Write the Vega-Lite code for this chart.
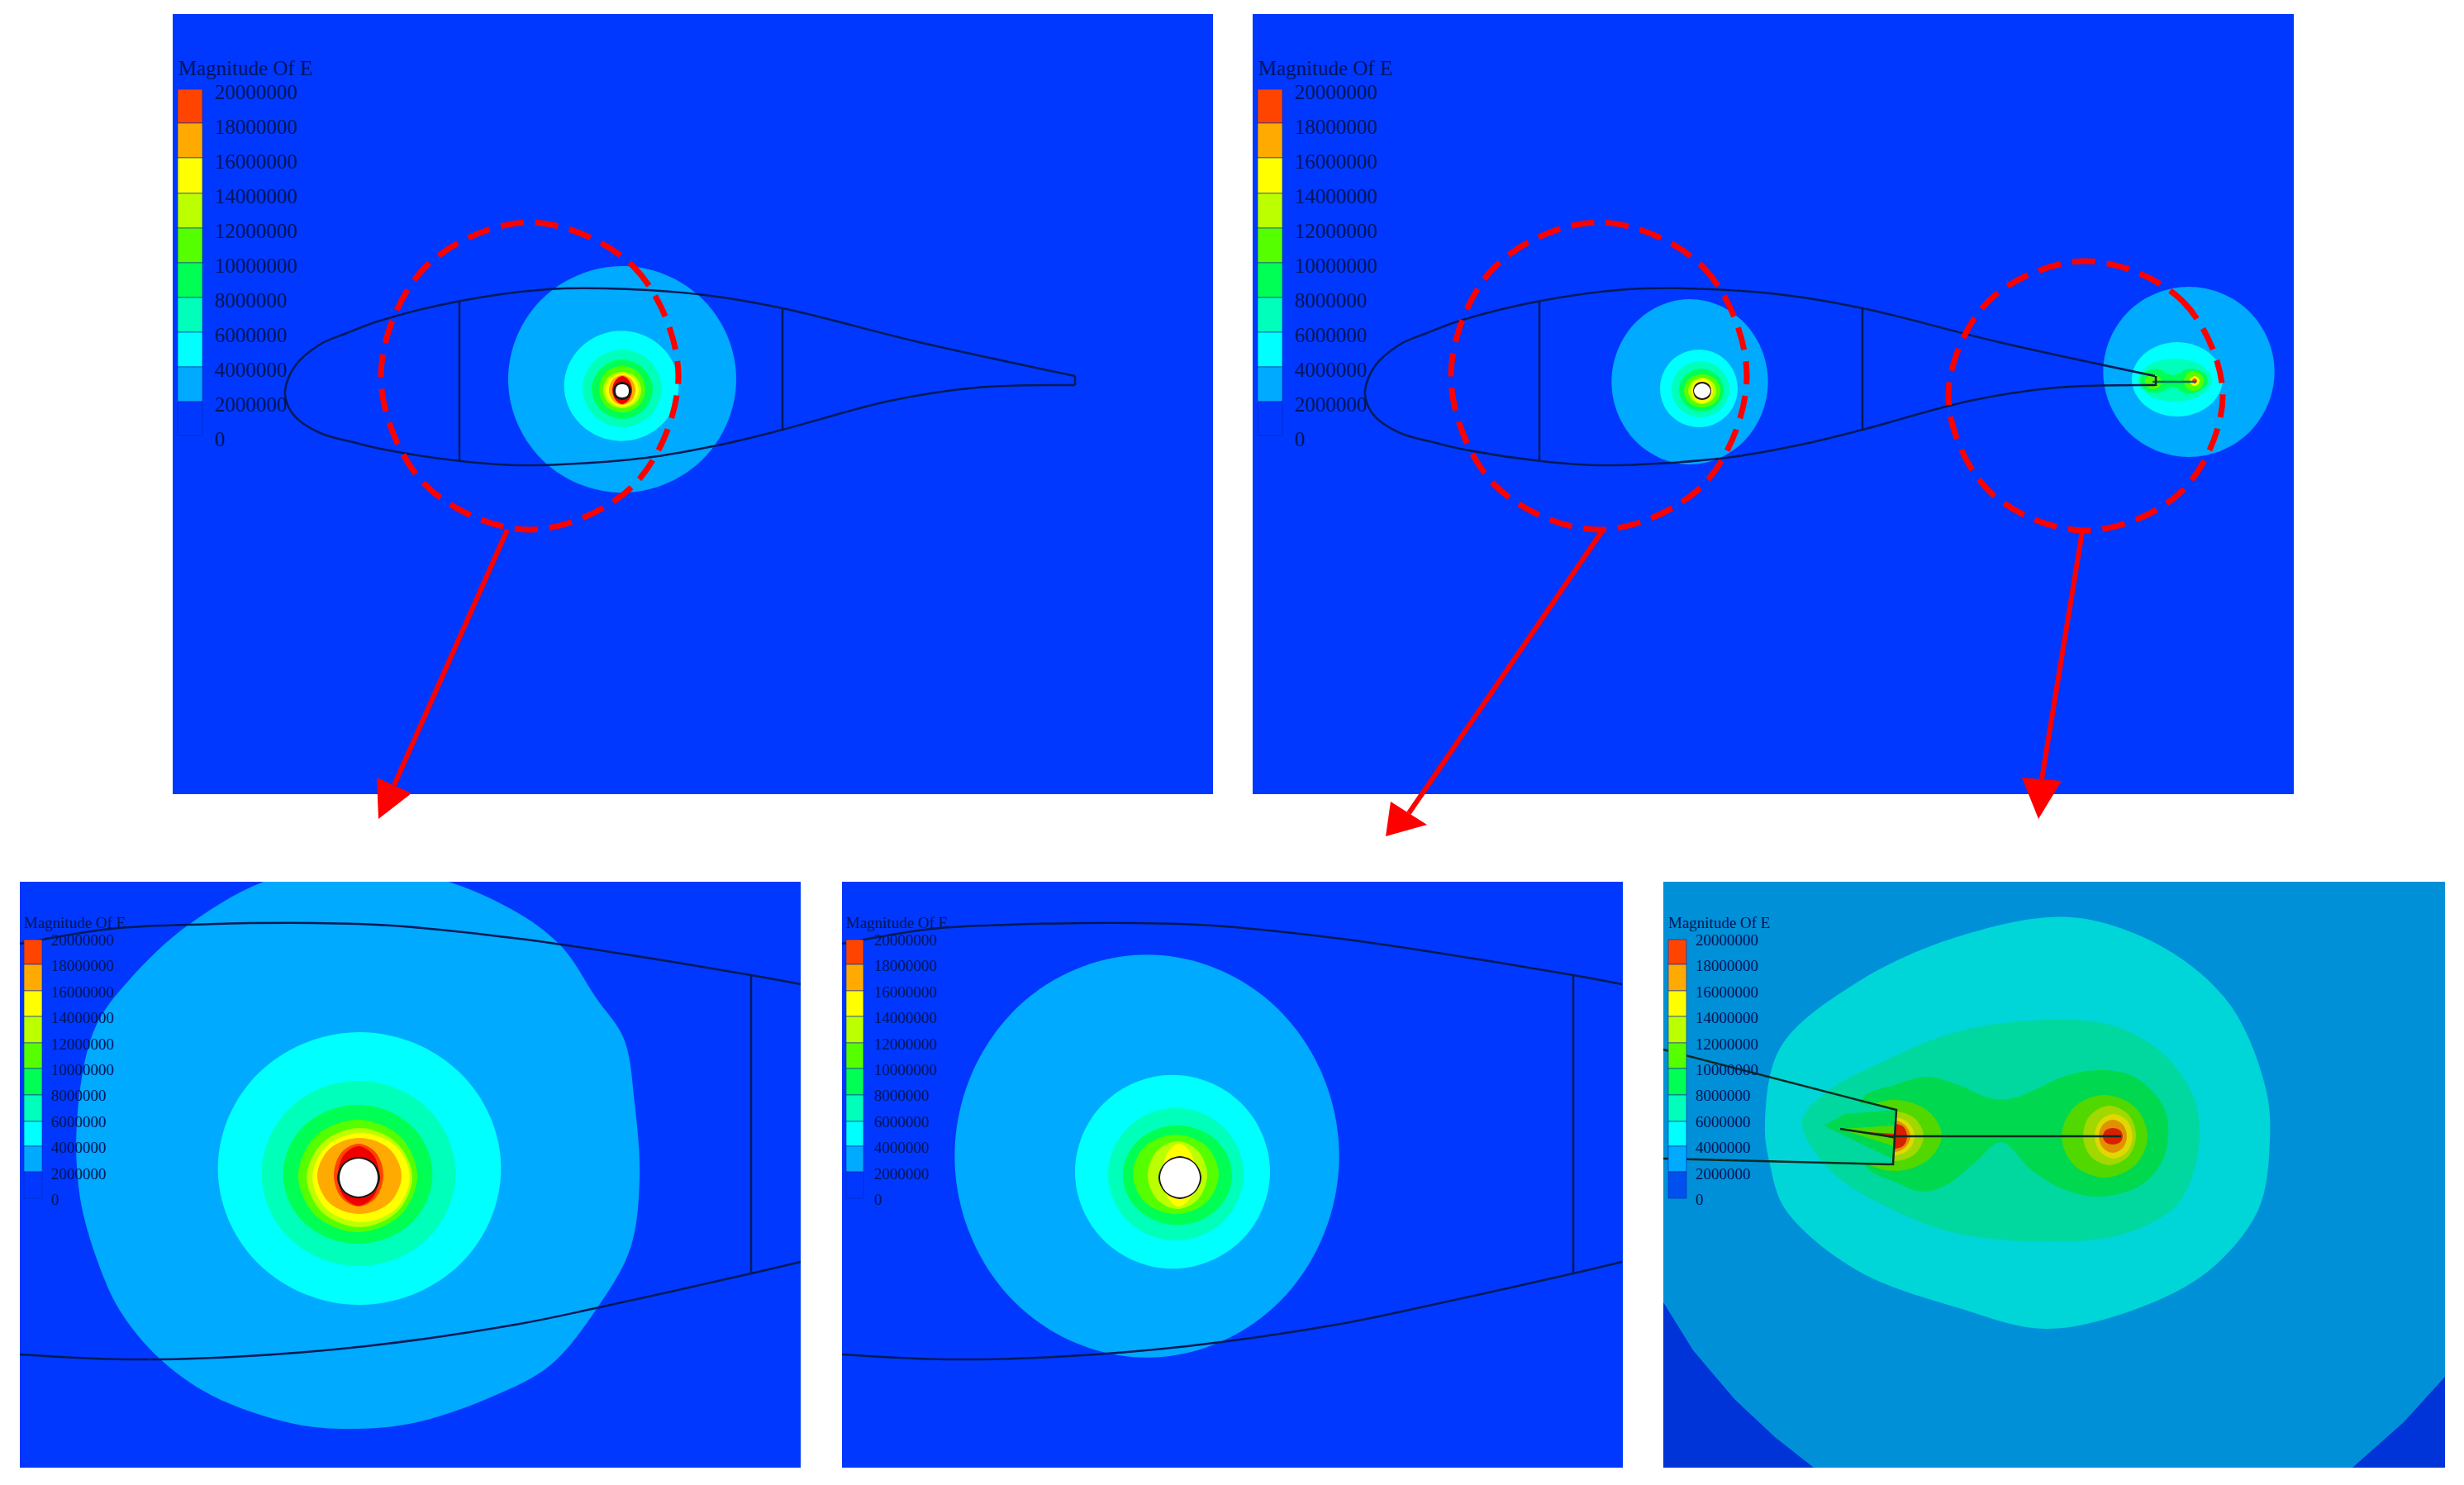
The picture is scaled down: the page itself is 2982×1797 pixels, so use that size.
{"$schema":"https://vega.github.io/schema/vega-lite/v6.json","width":2982,"height":1797,"autosize":{"type":"fit","contains":"padding"},"padding":0,"background":"#ffffff","view":{"stroke":null},
"datasets":{
"panels":[{"b":"b1","x":209,"x2":1468,"y":17,"y2":961},{"b":"b1","x":1516,"x2":2776,"y":17,"y2":961},{"b":"b1","x":24,"x2":969,"y":1067,"y2":1776},{"b":"b1","x":1019,"x2":1964,"y":1067,"y2":1776},{"b":"g2","x":2013,"x2":2959,"y":1067,"y2":1776}],
"mask":[{"b":"white","x":24,"x2":969,"y":961,"y2":1067}],
"legend":[
{"b":"b10","x":215,"x2":245,"y":108,"y2":149},{"b":"b9","x":215,"x2":245,"y":149,"y2":191},{"b":"b8","x":215,"x2":245,"y":191,"y2":234},{"b":"b7","x":215,"x2":245,"y":234,"y2":276},{"b":"b6","x":215,"x2":245,"y":276,"y2":318},{"b":"b5","x":215,"x2":245,"y":318,"y2":360},{"b":"b4","x":215,"x2":245,"y":360,"y2":402},{"b":"b3","x":215,"x2":245,"y":402,"y2":444},{"b":"b2","x":215,"x2":245,"y":444,"y2":486},{"b":"b1","x":215,"x2":245,"y":486,"y2":527},
{"b":"b10","x":1522,"x2":1552,"y":108,"y2":149},{"b":"b9","x":1522,"x2":1552,"y":149,"y2":191},{"b":"b8","x":1522,"x2":1552,"y":191,"y2":234},{"b":"b7","x":1522,"x2":1552,"y":234,"y2":276},{"b":"b6","x":1522,"x2":1552,"y":276,"y2":318},{"b":"b5","x":1522,"x2":1552,"y":318,"y2":360},{"b":"b4","x":1522,"x2":1552,"y":360,"y2":402},{"b":"b3","x":1522,"x2":1552,"y":402,"y2":444},{"b":"b2","x":1522,"x2":1552,"y":444,"y2":486},{"b":"b1","x":1522,"x2":1552,"y":486,"y2":527},
{"b":"b10","x":29,"x2":51,"y":1137,"y2":1167},{"b":"b9","x":29,"x2":51,"y":1167,"y2":1199},{"b":"b8","x":29,"x2":51,"y":1199,"y2":1230},{"b":"b7","x":29,"x2":51,"y":1230,"y2":1262},{"b":"b6","x":29,"x2":51,"y":1262,"y2":1293},{"b":"b5","x":29,"x2":51,"y":1293,"y2":1325},{"b":"b4","x":29,"x2":51,"y":1325,"y2":1357},{"b":"b3","x":29,"x2":51,"y":1357,"y2":1387},{"b":"b2","x":29,"x2":51,"y":1387,"y2":1418},{"b":"b1","x":29,"x2":51,"y":1418,"y2":1450},
{"b":"b10","x":1024,"x2":1045,"y":1137,"y2":1167},{"b":"b9","x":1024,"x2":1045,"y":1167,"y2":1199},{"b":"b8","x":1024,"x2":1045,"y":1199,"y2":1230},{"b":"b7","x":1024,"x2":1045,"y":1230,"y2":1262},{"b":"b6","x":1024,"x2":1045,"y":1262,"y2":1293},{"b":"b5","x":1024,"x2":1045,"y":1293,"y2":1325},{"b":"b4","x":1024,"x2":1045,"y":1325,"y2":1357},{"b":"b3","x":1024,"x2":1045,"y":1357,"y2":1387},{"b":"b2","x":1024,"x2":1045,"y":1387,"y2":1418},{"b":"b1","x":1024,"x2":1045,"y":1418,"y2":1450},
{"b":"b10","x":2019,"x2":2041,"y":1137,"y2":1167},{"b":"b9","x":2019,"x2":2041,"y":1167,"y2":1199},{"b":"b8","x":2019,"x2":2041,"y":1199,"y2":1230},{"b":"b7","x":2019,"x2":2041,"y":1230,"y2":1262},{"b":"b6","x":2019,"x2":2041,"y":1262,"y2":1293},{"b":"b5","x":2019,"x2":2041,"y":1293,"y2":1325},{"b":"b4","x":2019,"x2":2041,"y":1325,"y2":1357},{"b":"b3","x":2019,"x2":2041,"y":1357,"y2":1387},{"b":"b2","x":2019,"x2":2041,"y":1387,"y2":1418},{"b":"b0","x":2019,"x2":2041,"y":1418,"y2":1450}],
"labels":[
{"t":"Magnitude Of E","k":"big","b":"ink","x":216,"y":83},{"t":"20000000","k":"big","b":"ink","x":260,"y":112},{"t":"18000000","k":"big","b":"ink","x":260,"y":154},{"t":"16000000","k":"big","b":"ink","x":260,"y":196},{"t":"14000000","k":"big","b":"ink","x":260,"y":238},{"t":"12000000","k":"big","b":"ink","x":260,"y":280},{"t":"10000000","k":"big","b":"ink","x":260,"y":322},{"t":"8000000","k":"big","b":"ink","x":260,"y":364},{"t":"6000000","k":"big","b":"ink","x":260,"y":406},{"t":"4000000","k":"big","b":"ink","x":260,"y":448},{"t":"2000000","k":"big","b":"ink","x":260,"y":490},{"t":"0","k":"big","b":"ink","x":260,"y":532},
{"t":"Magnitude Of E","k":"big","b":"ink","x":1523,"y":83},{"t":"20000000","k":"big","b":"ink","x":1567,"y":112},{"t":"18000000","k":"big","b":"ink","x":1567,"y":154},{"t":"16000000","k":"big","b":"ink","x":1567,"y":196},{"t":"14000000","k":"big","b":"ink","x":1567,"y":238},{"t":"12000000","k":"big","b":"ink","x":1567,"y":280},{"t":"10000000","k":"big","b":"ink","x":1567,"y":322},{"t":"8000000","k":"big","b":"ink","x":1567,"y":364},{"t":"6000000","k":"big","b":"ink","x":1567,"y":406},{"t":"4000000","k":"big","b":"ink","x":1567,"y":448},{"t":"2000000","k":"big","b":"ink","x":1567,"y":490},{"t":"0","k":"big","b":"ink","x":1567,"y":532},
{"t":"Magnitude Of E","k":"small","b":"ink","x":29,"y":1117},{"t":"20000000","k":"small","b":"ink","x":62,"y":1138},{"t":"18000000","k":"small","b":"ink","x":62,"y":1169},{"t":"16000000","k":"small","b":"ink","x":62,"y":1201},{"t":"14000000","k":"small","b":"ink","x":62,"y":1232},{"t":"12000000","k":"small","b":"ink","x":62,"y":1264},{"t":"10000000","k":"small","b":"ink","x":62,"y":1295},{"t":"8000000","k":"small","b":"ink","x":62,"y":1326},{"t":"6000000","k":"small","b":"ink","x":62,"y":1358},{"t":"4000000","k":"small","b":"ink","x":62,"y":1389},{"t":"2000000","k":"small","b":"ink","x":62,"y":1421},{"t":"0","k":"small","b":"ink","x":62,"y":1452},
{"t":"Magnitude Of E","k":"small","b":"ink","x":1024,"y":1117},{"t":"20000000","k":"small","b":"ink","x":1058,"y":1138},{"t":"18000000","k":"small","b":"ink","x":1058,"y":1169},{"t":"16000000","k":"small","b":"ink","x":1058,"y":1201},{"t":"14000000","k":"small","b":"ink","x":1058,"y":1232},{"t":"12000000","k":"small","b":"ink","x":1058,"y":1264},{"t":"10000000","k":"small","b":"ink","x":1058,"y":1295},{"t":"8000000","k":"small","b":"ink","x":1058,"y":1326},{"t":"6000000","k":"small","b":"ink","x":1058,"y":1358},{"t":"4000000","k":"small","b":"ink","x":1058,"y":1389},{"t":"2000000","k":"small","b":"ink","x":1058,"y":1421},{"t":"0","k":"small","b":"ink","x":1058,"y":1452},
{"t":"Magnitude Of E","k":"small","b":"ink","x":2019,"y":1117},{"t":"20000000","k":"small","b":"ink","x":2052,"y":1138},{"t":"18000000","k":"small","b":"ink","x":2052,"y":1169},{"t":"16000000","k":"small","b":"ink","x":2052,"y":1201},{"t":"14000000","k":"small","b":"ink","x":2052,"y":1232},{"t":"12000000","k":"small","b":"ink","x":2052,"y":1264},{"t":"10000000","k":"small","b":"ink","x":2052,"y":1295},{"t":"8000000","k":"small","b":"ink","x":2052,"y":1326},{"t":"6000000","k":"small","b":"ink","x":2052,"y":1358},{"t":"4000000","k":"small","b":"ink","x":2052,"y":1389},{"t":"2000000","k":"small","b":"ink","x":2052,"y":1421},{"t":"0","k":"small","b":"ink","x":2052,"y":1452}],
"base":[
{"s":"d2","b":"b2","x":325,"y":1065},{"s":"d2","b":"b2","x":227,"y":1120},{"s":"d2","b":"b2","x":158,"y":1184},{"s":"d2","b":"b2","x":115,"y":1244},{"s":"d2","b":"b2","x":94,"y":1345},{"s":"d2","b":"b2","x":97,"y":1450},{"s":"d2","b":"b2","x":126,"y":1547},{"s":"d2","b":"b2","x":149,"y":1592},{"s":"d2","b":"b2","x":192,"y":1643},{"s":"d2","b":"b2","x":257,"y":1689},{"s":"d2","b":"b2","x":356,"y":1723},{"s":"d2","b":"b2","x":431,"y":1729},{"s":"d2","b":"b2","x":505,"y":1721},{"s":"d2","b":"b2","x":598,"y":1689},{"s":"d2","b":"b2","x":666,"y":1652},{"s":"d2","b":"b2","x":724,"y":1581},{"s":"d2","b":"b2","x":763,"y":1510},{"s":"d2","b":"b2","x":774,"y":1427},{"s":"d2","b":"b2","x":768,"y":1335},{"s":"d2","b":"b2","x":755,"y":1257},{"s":"d2","b":"b2","x":721,"y":1207},{"s":"d2","b":"b2","x":681,"y":1147},{"s":"d2","b":"b2","x":629,"y":1106},{"s":"d2","b":"b2","x":536,"y":1065},{"s":"d2","b":"b2","x":431,"y":1050}],
"ovals":[
{"s":"a2","b":"b2","x":753,"y":307},{"s":"a2","b":"b2","x":861,"y":352},{"s":"a2","b":"b2","x":906,"y":459},{"s":"a2","b":"b2","x":861,"y":566},{"s":"a2","b":"b2","x":753,"y":611},{"s":"a2","b":"b2","x":645,"y":566},{"s":"a2","b":"b2","x":600,"y":459},{"s":"a2","b":"b2","x":645,"y":352},
{"s":"a3","b":"b3","x":752,"y":393},{"s":"a3","b":"b3","x":806,"y":415},{"s":"a3","b":"b3","x":829,"y":467},{"s":"a3","b":"b3","x":806,"y":519},{"s":"a3","b":"b3","x":752,"y":541},{"s":"a3","b":"b3","x":698,"y":519},{"s":"a3","b":"b3","x":675,"y":467},{"s":"a3","b":"b3","x":698,"y":415},
{"s":"h2","b":"b2","x":2045,"y":351},{"s":"h2","b":"b2","x":2119,"y":384},{"s":"h2","b":"b2","x":2150,"y":462},{"s":"h2","b":"b2","x":2119,"y":540},{"s":"h2","b":"b2","x":2045,"y":573},{"s":"h2","b":"b2","x":1971,"y":540},{"s":"h2","b":"b2","x":1940,"y":462},{"s":"h2","b":"b2","x":1971,"y":384},
{"s":"h3","b":"b3","x":2056,"y":418},{"s":"h3","b":"b3","x":2093,"y":433},{"s":"h3","b":"b3","x":2108,"y":470},{"s":"h3","b":"b3","x":2093,"y":507},{"s":"h3","b":"b3","x":2056,"y":522},{"s":"h3","b":"b3","x":2019,"y":507},{"s":"h3","b":"b3","x":2004,"y":470},{"s":"h3","b":"b3","x":2019,"y":433},
{"s":"c2","b":"b2","x":2649,"y":336},{"s":"c2","b":"b2","x":2730,"y":369},{"s":"c2","b":"b2","x":2764,"y":450},{"s":"c2","b":"b2","x":2730,"y":531},{"s":"c2","b":"b2","x":2649,"y":564},{"s":"c2","b":"b2","x":2568,"y":531},{"s":"c2","b":"b2","x":2534,"y":450},{"s":"c2","b":"b2","x":2568,"y":369},
{"s":"c3","b":"b3","x":2635,"y":409},{"s":"c3","b":"b3","x":2678,"y":424},{"s":"c3","b":"b3","x":2696,"y":459},{"s":"c3","b":"b3","x":2678,"y":494},{"s":"c3","b":"b3","x":2635,"y":509},{"s":"c3","b":"b3","x":2592,"y":494},{"s":"c3","b":"b3","x":2574,"y":459},{"s":"c3","b":"b3","x":2592,"y":424},
{"s":"d3","b":"b3","x":435,"y":1231},{"s":"d3","b":"b3","x":569,"y":1285},{"s":"d3","b":"b3","x":625,"y":1414},{"s":"d3","b":"b3","x":569,"y":1543},{"s":"d3","b":"b3","x":435,"y":1597},{"s":"d3","b":"b3","x":301,"y":1543},{"s":"d3","b":"b3","x":245,"y":1414},{"s":"d3","b":"b3","x":301,"y":1285},
{"s":"d4","b":"b4","x":434,"y":1296},{"s":"d4","b":"b4","x":526,"y":1332},{"s":"d4","b":"b4","x":564,"y":1420},{"s":"d4","b":"b4","x":526,"y":1508},{"s":"d4","b":"b4","x":434,"y":1544},{"s":"d4","b":"b4","x":342,"y":1508},{"s":"d4","b":"b4","x":304,"y":1420},{"s":"d4","b":"b4","x":342,"y":1332},
{"s":"d5","b":"b5","x":433,"y":1328},{"s":"d5","b":"b5","x":504,"y":1355},{"s":"d5","b":"b5","x":533,"y":1421},{"s":"d5","b":"b5","x":504,"y":1487},{"s":"d5","b":"b5","x":433,"y":1514},{"s":"d5","b":"b5","x":362,"y":1487},{"s":"d5","b":"b5","x":333,"y":1421},{"s":"d5","b":"b5","x":362,"y":1355},
{"s":"e2","b":"b2","x":1388,"y":1129},{"s":"e2","b":"b2","x":1570,"y":1208},{"s":"e2","b":"b2","x":1646,"y":1399},{"s":"e2","b":"b2","x":1570,"y":1590},{"s":"e2","b":"b2","x":1388,"y":1669},{"s":"e2","b":"b2","x":1206,"y":1590},{"s":"e2","b":"b2","x":1130,"y":1399},{"s":"e2","b":"b2","x":1206,"y":1208},
{"s":"e3","b":"b3","x":1419,"y":1288},{"s":"e3","b":"b3","x":1511,"y":1326},{"s":"e3","b":"b3","x":1550,"y":1418},{"s":"e3","b":"b3","x":1511,"y":1510},{"s":"e3","b":"b3","x":1419,"y":1548},{"s":"e3","b":"b3","x":1327,"y":1510},{"s":"e3","b":"b3","x":1288,"y":1418},{"s":"e3","b":"b3","x":1327,"y":1326},
{"s":"e4","b":"b4","x":1423,"y":1332},{"s":"e4","b":"b4","x":1487,"y":1358},{"s":"e4","b":"b4","x":1514,"y":1421},{"s":"e4","b":"b4","x":1487,"y":1484},{"s":"e4","b":"b4","x":1423,"y":1510},{"s":"e4","b":"b4","x":1359,"y":1484},{"s":"e4","b":"b4","x":1332,"y":1421},{"s":"e4","b":"b4","x":1359,"y":1358},
{"s":"e5","b":"b5","x":1425,"y":1355},{"s":"e5","b":"b5","x":1477,"y":1375},{"s":"e5","b":"b5","x":1498,"y":1422},{"s":"e5","b":"b5","x":1477,"y":1469},{"s":"e5","b":"b5","x":1425,"y":1489},{"s":"e5","b":"b5","x":1373,"y":1469},{"s":"e5","b":"b5","x":1352,"y":1422},{"s":"e5","b":"b5","x":1373,"y":1375}],
"shapes":[
{"s":"a4","b":"b4","x":753,"y":423},{"s":"a4","b":"b4","x":787,"y":437},{"s":"a4","b":"b4","x":801,"y":470},{"s":"a4","b":"b4","x":787,"y":503},{"s":"a4","b":"b4","x":753,"y":517},{"s":"a4","b":"b4","x":719,"y":503},{"s":"a4","b":"b4","x":705,"y":470},{"s":"a4","b":"b4","x":719,"y":437},
{"s":"a5","b":"b5","x":753,"y":435},{"s":"a5","b":"b5","x":779,"y":446},{"s":"a5","b":"b5","x":790,"y":471},{"s":"a5","b":"b5","x":779,"y":496},{"s":"a5","b":"b5","x":753,"y":507},{"s":"a5","b":"b5","x":727,"y":496},{"s":"a5","b":"b5","x":716,"y":471},{"s":"a5","b":"b5","x":727,"y":446},
{"s":"a6","b":"b6","x":753,"y":443},{"s":"a6","b":"b6","x":773,"y":451},{"s":"a6","b":"b6","x":781,"y":471},{"s":"a6","b":"b6","x":773,"y":491},{"s":"a6","b":"b6","x":753,"y":499},{"s":"a6","b":"b6","x":733,"y":491},{"s":"a6","b":"b6","x":725,"y":471},{"s":"a6","b":"b6","x":733,"y":451},
{"s":"a7","b":"b7","x":753,"y":450},{"s":"a7","b":"b7","x":769,"y":456},{"s":"a7","b":"b7","x":776,"y":472},{"s":"a7","b":"b7","x":769,"y":488},{"s":"a7","b":"b7","x":753,"y":494},{"s":"a7","b":"b7","x":737,"y":488},{"s":"a7","b":"b7","x":730,"y":472},{"s":"a7","b":"b7","x":737,"y":456},
{"s":"a8","b":"b8","x":753,"y":452},{"s":"a8","b":"b8","x":767,"y":458},{"s":"a8","b":"b8","x":773,"y":472},{"s":"a8","b":"b8","x":767,"y":486},{"s":"a8","b":"b8","x":753,"y":492},{"s":"a8","b":"b8","x":739,"y":486},{"s":"a8","b":"b8","x":733,"y":472},{"s":"a8","b":"b8","x":739,"y":458},
{"s":"a9","b":"b9","x":753,"y":454},{"s":"a9","b":"b9","x":764,"y":459},{"s":"a9","b":"b9","x":769,"y":472},{"s":"a9","b":"b9","x":764,"y":485},{"s":"a9","b":"b9","x":753,"y":490},{"s":"a9","b":"b9","x":742,"y":485},{"s":"a9","b":"b9","x":737,"y":472},{"s":"a9","b":"b9","x":742,"y":459},
{"s":"a11","b":"b11","x":753,"y":455},{"s":"a11","b":"b11","x":761,"y":460},{"s":"a11","b":"b11","x":765,"y":472},{"s":"a11","b":"b11","x":761,"y":484},{"s":"a11","b":"b11","x":753,"y":489},{"s":"a11","b":"b11","x":745,"y":484},{"s":"a11","b":"b11","x":741,"y":472},{"s":"a11","b":"b11","x":745,"y":460},
{"s":"ar","b":"ring","x":753,"y":462},{"s":"ar","b":"ring","x":761,"y":465},{"s":"ar","b":"ring","x":764,"y":473},{"s":"ar","b":"ring","x":761,"y":481},{"s":"ar","b":"ring","x":753,"y":484},{"s":"ar","b":"ring","x":745,"y":481},{"s":"ar","b":"ring","x":742,"y":473},{"s":"ar","b":"ring","x":745,"y":465},
{"s":"aw","b":"white","x":753,"y":465},{"s":"aw","b":"white","x":759,"y":467},{"s":"aw","b":"white","x":761,"y":473},{"s":"aw","b":"white","x":759,"y":479},{"s":"aw","b":"white","x":753,"y":481},{"s":"aw","b":"white","x":747,"y":479},{"s":"aw","b":"white","x":745,"y":473},{"s":"aw","b":"white","x":747,"y":467},
{"s":"h4","b":"b4","x":2058,"y":437},{"s":"h4","b":"b4","x":2083,"y":447},{"s":"h4","b":"b4","x":2093,"y":471},{"s":"h4","b":"b4","x":2083,"y":495},{"s":"h4","b":"b4","x":2058,"y":505},{"s":"h4","b":"b4","x":2033,"y":495},{"s":"h4","b":"b4","x":2023,"y":471},{"s":"h4","b":"b4","x":2033,"y":447},
{"s":"h5","b":"b5","x":2059,"y":446},{"s":"h5","b":"b5","x":2078,"y":454},{"s":"h5","b":"b5","x":2086,"y":472},{"s":"h5","b":"b5","x":2078,"y":490},{"s":"h5","b":"b5","x":2059,"y":498},{"s":"h5","b":"b5","x":2040,"y":490},{"s":"h5","b":"b5","x":2032,"y":472},{"s":"h5","b":"b5","x":2040,"y":454},
{"s":"h6","b":"b6","x":2060,"y":453},{"s":"h6","b":"b6","x":2076,"y":459},{"s":"h6","b":"b6","x":2082,"y":473},{"s":"h6","b":"b6","x":2076,"y":487},{"s":"h6","b":"b6","x":2060,"y":493},{"s":"h6","b":"b6","x":2044,"y":487},{"s":"h6","b":"b6","x":2038,"y":473},{"s":"h6","b":"b6","x":2044,"y":459},
{"s":"h7","b":"b7","x":2060,"y":457},{"s":"h7","b":"b7","x":2072,"y":462},{"s":"h7","b":"b7","x":2077,"y":473},{"s":"h7","b":"b7","x":2072,"y":484},{"s":"h7","b":"b7","x":2060,"y":489},{"s":"h7","b":"b7","x":2048,"y":484},{"s":"h7","b":"b7","x":2043,"y":473},{"s":"h7","b":"b7","x":2048,"y":462},
{"s":"h8","b":"b8","x":2060,"y":458},{"s":"h8","b":"b8","x":2069,"y":462},{"s":"h8","b":"b8","x":2073,"y":473},{"s":"h8","b":"b8","x":2069,"y":484},{"s":"h8","b":"b8","x":2060,"y":488},{"s":"h8","b":"b8","x":2051,"y":484},{"s":"h8","b":"b8","x":2047,"y":473},{"s":"h8","b":"b8","x":2051,"y":462},
{"s":"hr","b":"ring","x":2060,"y":462},{"s":"hr","b":"ring","x":2068,"y":465},{"s":"hr","b":"ring","x":2071,"y":473},{"s":"hr","b":"ring","x":2068,"y":481},{"s":"hr","b":"ring","x":2060,"y":484},{"s":"hr","b":"ring","x":2052,"y":481},{"s":"hr","b":"ring","x":2049,"y":473},{"s":"hr","b":"ring","x":2052,"y":465},
{"s":"hw","b":"white","x":2060,"y":464},{"s":"hw","b":"white","x":2067,"y":467},{"s":"hw","b":"white","x":2070,"y":473},{"s":"hw","b":"white","x":2067,"y":479},{"s":"hw","b":"white","x":2060,"y":482},{"s":"hw","b":"white","x":2053,"y":479},{"s":"hw","b":"white","x":2050,"y":473},{"s":"hw","b":"white","x":2053,"y":467},
{"s":"c4","b":"b4","x":2632,"y":434},{"s":"c4","b":"b4","x":2664,"y":442},{"s":"c4","b":"b4","x":2677,"y":460},{"s":"c4","b":"b4","x":2664,"y":478},{"s":"c4","b":"b4","x":2632,"y":486},{"s":"c4","b":"b4","x":2600,"y":478},{"s":"c4","b":"b4","x":2587,"y":460},{"s":"c4","b":"b4","x":2600,"y":442},
{"s":"c5","b":"b5","x":2596,"y":450},{"s":"c5","b":"b5","x":2612,"y":447},{"s":"c5","b":"b5","x":2630,"y":454},{"s":"c5","b":"b5","x":2650,"y":446},{"s":"c5","b":"b5","x":2668,"y":452},{"s":"c5","b":"b5","x":2672,"y":462},{"s":"c5","b":"b5","x":2660,"y":474},{"s":"c5","b":"b5","x":2645,"y":476},{"s":"c5","b":"b5","x":2630,"y":468},{"s":"c5","b":"b5","x":2612,"y":475},{"s":"c5","b":"b5","x":2596,"y":472},{"s":"c5","b":"b5","x":2590,"y":461},
{"s":"c6l","b":"b6","x":2606,"y":453},{"s":"c6l","b":"b6","x":2613,"y":456},{"s":"c6l","b":"b6","x":2616,"y":462},{"s":"c6l","b":"b6","x":2613,"y":468},{"s":"c6l","b":"b6","x":2606,"y":471},{"s":"c6l","b":"b6","x":2599,"y":468},{"s":"c6l","b":"b6","x":2596,"y":462},{"s":"c6l","b":"b6","x":2599,"y":456},
{"s":"c6r","b":"b6","x":2655,"y":449},{"s":"c6r","b":"b6","x":2663,"y":452},{"s":"c6r","b":"b6","x":2667,"y":461},{"s":"c6r","b":"b6","x":2663,"y":470},{"s":"c6r","b":"b6","x":2655,"y":473},{"s":"c6r","b":"b6","x":2647,"y":470},{"s":"c6r","b":"b6","x":2643,"y":461},{"s":"c6r","b":"b6","x":2647,"y":452},
{"s":"c8","b":"b8","x":2656,"y":455},{"s":"c8","b":"b8","x":2660,"y":457},{"s":"c8","b":"b8","x":2662,"y":461},{"s":"c8","b":"b8","x":2660,"y":465},{"s":"c8","b":"b8","x":2656,"y":467},{"s":"c8","b":"b8","x":2652,"y":465},{"s":"c8","b":"b8","x":2650,"y":461},{"s":"c8","b":"b8","x":2652,"y":457},
{"s":"c10","b":"b10","x":2656,"y":458},{"s":"c10","b":"b10","x":2658,"y":459},{"s":"c10","b":"b10","x":2659,"y":461},{"s":"c10","b":"b10","x":2658,"y":463},{"s":"c10","b":"b10","x":2656,"y":464},{"s":"c10","b":"b10","x":2654,"y":463},{"s":"c10","b":"b10","x":2653,"y":461},{"s":"c10","b":"b10","x":2654,"y":459},
{"s":"d6","b":"b6","x":433,"y":1355},{"s":"d6","b":"b6","x":484,"y":1375},{"s":"d6","b":"b6","x":505,"y":1423},{"s":"d6","b":"b6","x":484,"y":1471},{"s":"d6","b":"b6","x":433,"y":1491},{"s":"d6","b":"b6","x":382,"y":1471},{"s":"d6","b":"b6","x":361,"y":1423},{"s":"d6","b":"b6","x":382,"y":1375},
{"s":"d7","b":"b7","x":435,"y":1365},{"s":"d7","b":"b7","x":480,"y":1383},{"s":"d7","b":"b7","x":499,"y":1425},{"s":"d7","b":"b7","x":480,"y":1467},{"s":"d7","b":"b7","x":435,"y":1485},{"s":"d7","b":"b7","x":390,"y":1467},{"s":"d7","b":"b7","x":371,"y":1425},{"s":"d7","b":"b7","x":390,"y":1383},
{"s":"d8","b":"b8","x":437,"y":1371},{"s":"d8","b":"b8","x":479,"y":1387},{"s":"d8","b":"b8","x":496,"y":1425},{"s":"d8","b":"b8","x":479,"y":1463},{"s":"d8","b":"b8","x":437,"y":1479},{"s":"d8","b":"b8","x":395,"y":1463},{"s":"d8","b":"b8","x":378,"y":1425},{"s":"d8","b":"b8","x":395,"y":1387},
{"s":"d9","b":"b9","x":435,"y":1377},{"s":"d9","b":"b9","x":471,"y":1390},{"s":"d9","b":"b9","x":486,"y":1423},{"s":"d9","b":"b9","x":471,"y":1456},{"s":"d9","b":"b9","x":435,"y":1469},{"s":"d9","b":"b9","x":399,"y":1456},{"s":"d9","b":"b9","x":384,"y":1423},{"s":"d9","b":"b9","x":399,"y":1390},
{"s":"d10","b":"b10","x":434,"y":1384},{"s":"d10","b":"b10","x":455,"y":1395},{"s":"d10","b":"b10","x":464,"y":1422},{"s":"d10","b":"b10","x":455,"y":1449},{"s":"d10","b":"b10","x":434,"y":1460},{"s":"d10","b":"b10","x":413,"y":1449},{"s":"d10","b":"b10","x":404,"y":1422},{"s":"d10","b":"b10","x":413,"y":1395},
{"s":"d11","b":"b11","x":434,"y":1387},{"s":"d11","b":"b11","x":452,"y":1398},{"s":"d11","b":"b11","x":459,"y":1423},{"s":"d11","b":"b11","x":452,"y":1448},{"s":"d11","b":"b11","x":434,"y":1459},{"s":"d11","b":"b11","x":416,"y":1448},{"s":"d11","b":"b11","x":409,"y":1423},{"s":"d11","b":"b11","x":416,"y":1398},
{"s":"dr","b":"ring","x":434,"y":1400},{"s":"dr","b":"ring","x":452,"y":1407},{"s":"dr","b":"ring","x":460,"y":1425},{"s":"dr","b":"ring","x":452,"y":1443},{"s":"dr","b":"ring","x":434,"y":1450},{"s":"dr","b":"ring","x":416,"y":1443},{"s":"dr","b":"ring","x":408,"y":1425},{"s":"dr","b":"ring","x":416,"y":1407},
{"s":"dw","b":"white","x":434,"y":1402},{"s":"dw","b":"white","x":451,"y":1409},{"s":"dw","b":"white","x":457,"y":1425},{"s":"dw","b":"white","x":451,"y":1441},{"s":"dw","b":"white","x":434,"y":1448},{"s":"dw","b":"white","x":417,"y":1441},{"s":"dw","b":"white","x":411,"y":1425},{"s":"dw","b":"white","x":417,"y":1409},
{"s":"e6","b":"b6","x":1423,"y":1373},{"s":"e6","b":"b6","x":1460,"y":1387},{"s":"e6","b":"b6","x":1475,"y":1421},{"s":"e6","b":"b6","x":1460,"y":1455},{"s":"e6","b":"b6","x":1423,"y":1469},{"s":"e6","b":"b6","x":1386,"y":1455},{"s":"e6","b":"b6","x":1371,"y":1421},{"s":"e6","b":"b6","x":1386,"y":1387},
{"s":"e7","b":"b7","x":1425,"y":1381},{"s":"e7","b":"b7","x":1450,"y":1393},{"s":"e7","b":"b7","x":1461,"y":1422},{"s":"e7","b":"b7","x":1450,"y":1451},{"s":"e7","b":"b7","x":1425,"y":1463},{"s":"e7","b":"b7","x":1400,"y":1451},{"s":"e7","b":"b7","x":1389,"y":1422},{"s":"e7","b":"b7","x":1400,"y":1393},
{"s":"e8","b":"b8","x":1427,"y":1384},{"s":"e8","b":"b8","x":1441,"y":1395},{"s":"e8","b":"b8","x":1447,"y":1422},{"s":"e8","b":"b8","x":1441,"y":1449},{"s":"e8","b":"b8","x":1427,"y":1460},{"s":"e8","b":"b8","x":1413,"y":1449},{"s":"e8","b":"b8","x":1407,"y":1422},{"s":"e8","b":"b8","x":1413,"y":1395},
{"s":"er","b":"ring","x":1428,"y":1399},{"s":"er","b":"ring","x":1446,"y":1407},{"s":"er","b":"ring","x":1454,"y":1425},{"s":"er","b":"ring","x":1446,"y":1443},{"s":"er","b":"ring","x":1428,"y":1451},{"s":"er","b":"ring","x":1410,"y":1443},{"s":"er","b":"ring","x":1402,"y":1425},{"s":"er","b":"ring","x":1410,"y":1407},
{"s":"ew","b":"white","x":1428,"y":1401},{"s":"ew","b":"white","x":1445,"y":1408},{"s":"ew","b":"white","x":1452,"y":1425},{"s":"ew","b":"white","x":1445,"y":1442},{"s":"ew","b":"white","x":1428,"y":1449},{"s":"ew","b":"white","x":1411,"y":1442},{"s":"ew","b":"white","x":1404,"y":1425},{"s":"ew","b":"white","x":1411,"y":1408},
{"s":"f3","b":"g3","x":2507,"y":1110},{"s":"f3","b":"g3","x":2619,"y":1147},{"s":"f3","b":"g3","x":2699,"y":1216},{"s":"f3","b":"g3","x":2742,"y":1317},{"s":"f3","b":"g3","x":2747,"y":1381},{"s":"f3","b":"g3","x":2733,"y":1464},{"s":"f3","b":"g3","x":2674,"y":1537},{"s":"f3","b":"g3","x":2588,"y":1583},{"s":"f3","b":"g3","x":2476,"y":1608},{"s":"f3","b":"g3","x":2371,"y":1583},{"s":"f3","b":"g3","x":2247,"y":1537},{"s":"f3","b":"g3","x":2161,"y":1464},{"s":"f3","b":"g3","x":2142,"y":1409},{"s":"f3","b":"g3","x":2136,"y":1358},{"s":"f3","b":"g3","x":2155,"y":1267},{"s":"f3","b":"g3","x":2247,"y":1189},{"s":"f3","b":"g3","x":2371,"y":1133},
{"s":"f4","b":"g4","x":2181,"y":1358},{"s":"f4","b":"g4","x":2210,"y":1322},{"s":"f4","b":"g4","x":2278,"y":1285},{"s":"f4","b":"g4","x":2371,"y":1248},{"s":"f4","b":"g4","x":2483,"y":1234},{"s":"f4","b":"g4","x":2557,"y":1241},{"s":"f4","b":"g4","x":2619,"y":1276},{"s":"f4","b":"g4","x":2656,"y":1331},{"s":"f4","b":"g4","x":2660,"y":1395},{"s":"f4","b":"g4","x":2637,"y":1455},{"s":"f4","b":"g4","x":2588,"y":1487},{"s":"f4","b":"g4","x":2513,"y":1502},{"s":"f4","b":"g4","x":2371,"y":1493},{"s":"f4","b":"g4","x":2291,"y":1464},{"s":"f4","b":"g4","x":2217,"y":1418},
{"s":"f5","b":"g5","x":2253,"y":1330},{"s":"f5","b":"g5","x":2293,"y":1313},{"s":"f5","b":"g5","x":2333,"y":1303},{"s":"f5","b":"g5","x":2367,"y":1312},{"s":"f5","b":"g5","x":2413,"y":1330},{"s":"f5","b":"g5","x":2440,"y":1328},{"s":"f5","b":"g5","x":2500,"y":1302},{"s":"f5","b":"g5","x":2540,"y":1295},{"s":"f5","b":"g5","x":2583,"y":1303},{"s":"f5","b":"g5","x":2620,"y":1343},{"s":"f5","b":"g5","x":2620,"y":1397},{"s":"f5","b":"g5","x":2593,"y":1433},{"s":"f5","b":"g5","x":2543,"y":1448},{"s":"f5","b":"g5","x":2500,"y":1440},{"s":"f5","b":"g5","x":2460,"y":1417},{"s":"f5","b":"g5","x":2422,"y":1382},{"s":"f5","b":"g5","x":2390,"y":1407},{"s":"f5","b":"g5","x":2357,"y":1433},{"s":"f5","b":"g5","x":2327,"y":1442},{"s":"f5","b":"g5","x":2293,"y":1430},{"s":"f5","b":"g5","x":2257,"y":1410},
{"s":"f6a","b":"g6","x":2293,"y":1331},{"s":"f6a","b":"g6","x":2333,"y":1344},{"s":"f6a","b":"g6","x":2350,"y":1374},{"s":"f6a","b":"g6","x":2333,"y":1404},{"s":"f6a","b":"g6","x":2293,"y":1417},{"s":"f6a","b":"g6","x":2253,"y":1404},{"s":"f6a","b":"g6","x":2236,"y":1374},{"s":"f6a","b":"g6","x":2253,"y":1344},
{"s":"f7a","b":"g7","x":2293,"y":1345},{"s":"f7a","b":"g7","x":2318,"y":1354},{"s":"f7a","b":"g7","x":2328,"y":1375},{"s":"f7a","b":"g7","x":2318,"y":1396},{"s":"f7a","b":"g7","x":2293,"y":1405},{"s":"f7a","b":"g7","x":2268,"y":1396},{"s":"f7a","b":"g7","x":2258,"y":1375},{"s":"f7a","b":"g7","x":2268,"y":1354},
{"s":"f8a","b":"g8","x":2293,"y":1352},{"s":"f8a","b":"g8","x":2310,"y":1359},{"s":"f8a","b":"g8","x":2317,"y":1375},{"s":"f8a","b":"g8","x":2310,"y":1391},{"s":"f8a","b":"g8","x":2293,"y":1398},{"s":"f8a","b":"g8","x":2276,"y":1391},{"s":"f8a","b":"g8","x":2269,"y":1375},{"s":"f8a","b":"g8","x":2276,"y":1359},
{"s":"f9a","b":"g9","x":2293,"y":1356},{"s":"f9a","b":"g9","x":2306,"y":1362},{"s":"f9a","b":"g9","x":2312,"y":1375},{"s":"f9a","b":"g9","x":2306,"y":1388},{"s":"f9a","b":"g9","x":2293,"y":1394},{"s":"f9a","b":"g9","x":2280,"y":1388},{"s":"f9a","b":"g9","x":2274,"y":1375},{"s":"f9a","b":"g9","x":2280,"y":1362},
{"s":"f11a","b":"g11","x":2293,"y":1360},{"s":"f11a","b":"g11","x":2304,"y":1364},{"s":"f11a","b":"g11","x":2308,"y":1375},{"s":"f11a","b":"g11","x":2304,"y":1386},{"s":"f11a","b":"g11","x":2293,"y":1390},{"s":"f11a","b":"g11","x":2282,"y":1386},{"s":"f11a","b":"g11","x":2278,"y":1375},{"s":"f11a","b":"g11","x":2282,"y":1364},
{"s":"f6b","b":"g6","x":2547,"y":1325},{"s":"f6b","b":"g6","x":2584,"y":1340},{"s":"f6b","b":"g6","x":2599,"y":1375},{"s":"f6b","b":"g6","x":2584,"y":1410},{"s":"f6b","b":"g6","x":2547,"y":1425},{"s":"f6b","b":"g6","x":2510,"y":1410},{"s":"f6b","b":"g6","x":2495,"y":1375},{"s":"f6b","b":"g6","x":2510,"y":1340},
{"s":"f7b","b":"g7","x":2553,"y":1338},{"s":"f7b","b":"g7","x":2576,"y":1349},{"s":"f7b","b":"g7","x":2585,"y":1374},{"s":"f7b","b":"g7","x":2576,"y":1399},{"s":"f7b","b":"g7","x":2553,"y":1410},{"s":"f7b","b":"g7","x":2530,"y":1399},{"s":"f7b","b":"g7","x":2521,"y":1374},{"s":"f7b","b":"g7","x":2530,"y":1349},
{"s":"f8b","b":"g8","x":2558,"y":1348},{"s":"f8b","b":"g8","x":2574,"y":1356},{"s":"f8b","b":"g8","x":2581,"y":1375},{"s":"f8b","b":"g8","x":2574,"y":1394},{"s":"f8b","b":"g8","x":2558,"y":1402},{"s":"f8b","b":"g8","x":2542,"y":1394},{"s":"f8b","b":"g8","x":2535,"y":1375},{"s":"f8b","b":"g8","x":2542,"y":1356},
{"s":"f9b","b":"g9","x":2557,"y":1355},{"s":"f9b","b":"g9","x":2569,"y":1361},{"s":"f9b","b":"g9","x":2574,"y":1375},{"s":"f9b","b":"g9","x":2569,"y":1389},{"s":"f9b","b":"g9","x":2557,"y":1395},{"s":"f9b","b":"g9","x":2545,"y":1389},{"s":"f9b","b":"g9","x":2540,"y":1375},{"s":"f9b","b":"g9","x":2545,"y":1361},
{"s":"f11b","b":"g11","x":2557,"y":1365},{"s":"f11b","b":"g11","x":2566,"y":1368},{"s":"f11b","b":"g11","x":2569,"y":1375},{"s":"f11b","b":"g11","x":2566,"y":1382},{"s":"f11b","b":"g11","x":2557,"y":1385},{"s":"f11b","b":"g11","x":2548,"y":1382},{"s":"f11b","b":"g11","x":2545,"y":1375},{"s":"f11b","b":"g11","x":2548,"y":1368}],
"polys":[
{"s":"cl","b":"g1","x":2013,"y":1576},{"s":"cl","b":"g1","x":2049,"y":1634},{"s":"cl","b":"g1","x":2099,"y":1693},{"s":"cl","b":"g1","x":2148,"y":1739},{"s":"cl","b":"g1","x":2195,"y":1776},{"s":"cl","b":"g1","x":2013,"y":1776},
{"s":"cr","b":"g1","x":2959,"y":1666},{"s":"cr","b":"g1","x":2909,"y":1721},{"s":"cr","b":"g1","x":2847,"y":1776},{"s":"cr","b":"g1","x":2959,"y":1776},
{"s":"i4","b":"g4","x":2236,"y":1332},{"s":"i4","b":"g4","x":2295,"y":1343},{"s":"i4","b":"g4","x":2291,"y":1408},{"s":"i4","b":"g4","x":2236,"y":1406},
{"s":"i5","b":"g5","x":2207,"y":1362},{"s":"i5","b":"g5","x":2233,"y":1348},{"s":"i5","b":"g5","x":2293,"y":1343},{"s":"i5","b":"g5","x":2291,"y":1403},
{"s":"i6","b":"g6","x":2227,"y":1366},{"s":"i6","b":"g6","x":2292,"y":1362},{"s":"i6","b":"g6","x":2292,"y":1387},
{"s":"i11","b":"g11","x":2260,"y":1370},{"s":"i11","b":"g11","x":2292,"y":1372},{"s":"i11","b":"g11","x":2292,"y":1378}],
"foil":[
{"s":"p1","b":"foil","x":1301,"y":455},{"s":"p1","b":"foil","x":1112,"y":414},{"s":"p1","b":"foil","x":947,"y":373},{"s":"p1","b":"foil","x":845,"y":356},{"s":"p1","b":"foil","x":733,"y":349},{"s":"p1","b":"foil","x":663,"y":350},{"s":"p1","b":"foil","x":558,"y":364},{"s":"p1","b":"foil","x":460,"y":388},{"s":"p1","b":"foil","x":420,"y":403},{"s":"p1","b":"foil","x":387,"y":417},{"s":"p1","b":"foil","x":357,"y":443},{"s":"p1","b":"foil","x":345,"y":473},{"s":"p1","b":"foil","x":348,"y":490},{"s":"p1","b":"foil","x":360,"y":507},{"s":"p1","b":"foil","x":390,"y":525},{"s":"p1","b":"foil","x":427,"y":535},{"s":"p1","b":"foil","x":460,"y":543},{"s":"p1","b":"foil","x":558,"y":558},{"s":"p1","b":"foil","x":635,"y":563},{"s":"p1","b":"foil","x":782,"y":554},{"s":"p1","b":"foil","x":873,"y":538},{"s":"p1","b":"foil","x":947,"y":520},{"s":"p1","b":"foil","x":1077,"y":485},{"s":"p1","b":"foil","x":1182,"y":469},{"s":"p1","b":"foil","x":1301,"y":466},
{"s":"p2","b":"foil","x":2608,"y":455},{"s":"p2","b":"foil","x":2419,"y":414},{"s":"p2","b":"foil","x":2254,"y":373},{"s":"p2","b":"foil","x":2152,"y":356},{"s":"p2","b":"foil","x":2040,"y":349},{"s":"p2","b":"foil","x":1970,"y":350},{"s":"p2","b":"foil","x":1865,"y":364},{"s":"p2","b":"foil","x":1767,"y":388},{"s":"p2","b":"foil","x":1727,"y":403},{"s":"p2","b":"foil","x":1694,"y":417},{"s":"p2","b":"foil","x":1664,"y":443},{"s":"p2","b":"foil","x":1652,"y":473},{"s":"p2","b":"foil","x":1655,"y":490},{"s":"p2","b":"foil","x":1667,"y":507},{"s":"p2","b":"foil","x":1697,"y":525},{"s":"p2","b":"foil","x":1734,"y":535},{"s":"p2","b":"foil","x":1767,"y":543},{"s":"p2","b":"foil","x":1865,"y":558},{"s":"p2","b":"foil","x":1942,"y":563},{"s":"p2","b":"foil","x":2089,"y":554},{"s":"p2","b":"foil","x":2180,"y":538},{"s":"p2","b":"foil","x":2254,"y":520},{"s":"p2","b":"foil","x":2384,"y":485},{"s":"p2","b":"foil","x":2489,"y":469},{"s":"p2","b":"foil","x":2608,"y":466},
{"s":"p3t","b":"foil","x":24,"y":1142},{"s":"p3t","b":"foil","x":134,"y":1124},{"s":"p3t","b":"foil","x":227,"y":1119},{"s":"p3t","b":"foil","x":381,"y":1117},{"s":"p3t","b":"foil","x":474,"y":1120},{"s":"p3t","b":"foil","x":629,"y":1136},{"s":"p3t","b":"foil","x":752,"y":1154},{"s":"p3t","b":"foil","x":909,"y":1180},{"s":"p3t","b":"foil","x":969,"y":1191},
{"s":"p3b","b":"foil","x":24,"y":1639},{"s":"p3b","b":"foil","x":152,"y":1645},{"s":"p3b","b":"foil","x":282,"y":1642},{"s":"p3b","b":"foil","x":443,"y":1629},{"s":"p3b","b":"foil","x":629,"y":1602},{"s":"p3b","b":"foil","x":721,"y":1583},{"s":"p3b","b":"foil","x":909,"y":1541},{"s":"p3b","b":"foil","x":969,"y":1527},
{"s":"p4t","b":"foil","x":1019,"y":1142},{"s":"p4t","b":"foil","x":1128,"y":1124},{"s":"p4t","b":"foil","x":1221,"y":1119},{"s":"p4t","b":"foil","x":1375,"y":1117},{"s":"p4t","b":"foil","x":1468,"y":1120},{"s":"p4t","b":"foil","x":1623,"y":1136},{"s":"p4t","b":"foil","x":1746,"y":1154},{"s":"p4t","b":"foil","x":1904,"y":1180},{"s":"p4t","b":"foil","x":1963,"y":1191},
{"s":"p4b","b":"foil","x":1019,"y":1639},{"s":"p4b","b":"foil","x":1146,"y":1645},{"s":"p4b","b":"foil","x":1276,"y":1642},{"s":"p4b","b":"foil","x":1437,"y":1629},{"s":"p4b","b":"foil","x":1623,"y":1602},{"s":"p4b","b":"foil","x":1715,"y":1583},{"s":"p4b","b":"foil","x":1904,"y":1541},{"s":"p4b","b":"foil","x":1963,"y":1527}],
"straight":[
{"s":"v1","b":"foil","x":556,"y":364},{"s":"v1","b":"foil","x":556,"y":558},{"s":"v2","b":"foil","x":947,"y":373},{"s":"v2","b":"foil","x":947,"y":520},{"s":"v3","b":"foil","x":1301,"y":455},{"s":"v3","b":"foil","x":1301,"y":466},
{"s":"v4","b":"foil","x":1863,"y":364},{"s":"v4","b":"foil","x":1863,"y":558},{"s":"v5","b":"foil","x":2254,"y":373},{"s":"v5","b":"foil","x":2254,"y":520},{"s":"v6","b":"teal","x":2605,"y":462},{"s":"v6","b":"teal","x":2658,"y":462},{"s":"v7","b":"dark","x":2609,"y":455},{"s":"v7","b":"dark","x":2609,"y":467},
{"s":"v8","b":"foil","x":909,"y":1180},{"s":"v8","b":"foil","x":909,"y":1541},{"s":"v9","b":"foil","x":1904,"y":1180},{"s":"v9","b":"foil","x":1904,"y":1541},
{"s":"w1","b":"dark","x":2013,"y":1270},{"s":"w1","b":"dark","x":2295,"y":1343},{"s":"w1","b":"dark","x":2291,"y":1409},{"s":"w1","b":"dark","x":2013,"y":1402},{"s":"w2","b":"dark","x":2291,"y":1375},{"s":"w2","b":"dark","x":2567,"y":1375},{"s":"w3","b":"dark","x":2227,"y":1366},{"s":"w3","b":"dark","x":2292,"y":1376}],
"dashes":[
{"s":"r1","b":"red","x":641,"y":269},{"s":"r1","b":"red","x":768,"y":324},{"s":"r1","b":"red","x":821,"y":455},{"s":"r1","b":"red","x":768,"y":586},{"s":"r1","b":"red","x":641,"y":641},{"s":"r1","b":"red","x":514,"y":586},{"s":"r1","b":"red","x":461,"y":455},{"s":"r1","b":"red","x":514,"y":324},
{"s":"r2","b":"red","x":1935,"y":269},{"s":"r2","b":"red","x":2062,"y":324},{"s":"r2","b":"red","x":2114,"y":455},{"s":"r2","b":"red","x":2062,"y":586},{"s":"r2","b":"red","x":1935,"y":641},{"s":"r2","b":"red","x":1808,"y":586},{"s":"r2","b":"red","x":1756,"y":455},{"s":"r2","b":"red","x":1808,"y":324},
{"s":"r3","b":"red","x":2524,"y":316},{"s":"r3","b":"red","x":2641,"y":364},{"s":"r3","b":"red","x":2690,"y":479},{"s":"r3","b":"red","x":2641,"y":594},{"s":"r3","b":"red","x":2524,"y":642},{"s":"r3","b":"red","x":2407,"y":594},{"s":"r3","b":"red","x":2358,"y":479},{"s":"r3","b":"red","x":2407,"y":364}],
"arrows":[
{"s":"l1","b":"red","x":614,"y":641},{"s":"l1","b":"red","x":477,"y":950},{"s":"l2","b":"red","x":1940,"y":641},{"s":"l2","b":"red","x":1705,"y":984},{"s":"l3","b":"red","x":2520,"y":643},{"s":"l3","b":"red","x":2471,"y":943}],
"heads":[
{"s":"t1","b":"red","x":458,"y":991},{"s":"t1","b":"red","x":456,"y":941},{"s":"t1","b":"red","x":498,"y":960},
{"s":"t2","b":"red","x":1677,"y":1012},{"s":"t2","b":"red","x":1683,"y":970},{"s":"t2","b":"red","x":1727,"y":998},
{"s":"t3","b":"red","x":2467,"y":991},{"s":"t3","b":"red","x":2447,"y":941},{"s":"t3","b":"red","x":2495,"y":945}]
},
"encoding":{
"x":{"field":"x","type":"quantitative","axis":null,"scale":{"domain":[0,2982],"nice":false,"zero":false}},
"y":{"field":"y","type":"quantitative","axis":null,"scale":{"domain":[1797,0],"nice":false,"zero":false}},
"color":{"field":"b","type":"nominal","legend":null,"scale":{"domain":["b0","b1","b2","b3","b4","b5","b6","b7","b8","b9","b10","b11","g1","g2","g3","g4","g5","g6","g7","g8","g9","g11","white","ring","ink","foil","dark","teal","red"],"range":["#0050f0","#0038ff","#00aaff","#00ffff","#00ffbb","#00ff55","#55ff00","#bbff00","#ffff00","#ffaa00","#ff4400","#ee0000","#0033d8","#0090d8","#00d5d8","#00d8a0","#00d850","#50d800","#a0d800","#e0d800","#e09000","#d82000","#ffffff","#1a1a1a","#00145c","#001a55","#0a2a20","#006a6a","#ff0000"]}}
},
"layer":[
{"data":{"name":"panels"},"mark":{"type":"rect"},"encoding":{"x2":{"field":"x2"},"y2":{"field":"y2"}}},
{"data":{"name":"base"},"mark":{"type":"line","filled":true,"interpolate":"catmull-rom-closed","strokeWidth":0},"encoding":{"detail":{"field":"s"},"order":{"value":null}}},
{"data":{"name":"ovals"},"mark":{"type":"line","filled":true,"interpolate":"basis-closed","strokeWidth":0},"encoding":{"detail":{"field":"s"},"order":{"value":null}}},
{"data":{"name":"shapes"},"mark":{"type":"line","filled":true,"interpolate":"catmull-rom-closed","strokeWidth":0},"encoding":{"detail":{"field":"s"},"order":{"value":null}}},
{"data":{"name":"mask"},"mark":{"type":"rect"},"encoding":{"x2":{"field":"x2"},"y2":{"field":"y2"}}},
{"data":{"name":"polys"},"mark":{"type":"line","filled":true,"interpolate":"linear-closed","strokeWidth":0},"encoding":{"detail":{"field":"s"},"order":{"value":null}}},
{"data":{"name":"foil"},"mark":{"type":"line","interpolate":"catmull-rom","strokeWidth":2.5},"encoding":{"detail":{"field":"s"},"order":{"value":null}}},
{"data":{"name":"straight"},"mark":{"type":"line","strokeWidth":2.5},"encoding":{"detail":{"field":"s"},"order":{"value":null}}},
{"data":{"name":"legend"},"mark":{"type":"rect","stroke":"#0028b0","strokeWidth":1,"strokeOpacity":0.6},"encoding":{"x2":{"field":"x2"},"y2":{"field":"y2"}}},
{"data":{"name":"labels"},"transform":[{"filter":"datum.k==='big'"}],"mark":{"type":"text","font":"Liberation Serif","fontSize":25,"align":"left","baseline":"middle"},"encoding":{"text":{"field":"t"}}},
{"data":{"name":"labels"},"transform":[{"filter":"datum.k==='small'"}],"mark":{"type":"text","font":"Liberation Serif","fontSize":19,"align":"left","baseline":"middle"},"encoding":{"text":{"field":"t"}}},
{"data":{"name":"dashes"},"mark":{"type":"line","interpolate":"catmull-rom-closed","strokeWidth":7,"strokeDash":[28,14]},"encoding":{"detail":{"field":"s"},"order":{"value":null}}},
{"data":{"name":"arrows"},"mark":{"type":"line","strokeWidth":6},"encoding":{"detail":{"field":"s"},"order":{"value":null}}},
{"data":{"name":"heads"},"mark":{"type":"line","filled":true,"interpolate":"linear-closed","strokeWidth":0},"encoding":{"detail":{"field":"s"},"order":{"value":null}}}
]}
